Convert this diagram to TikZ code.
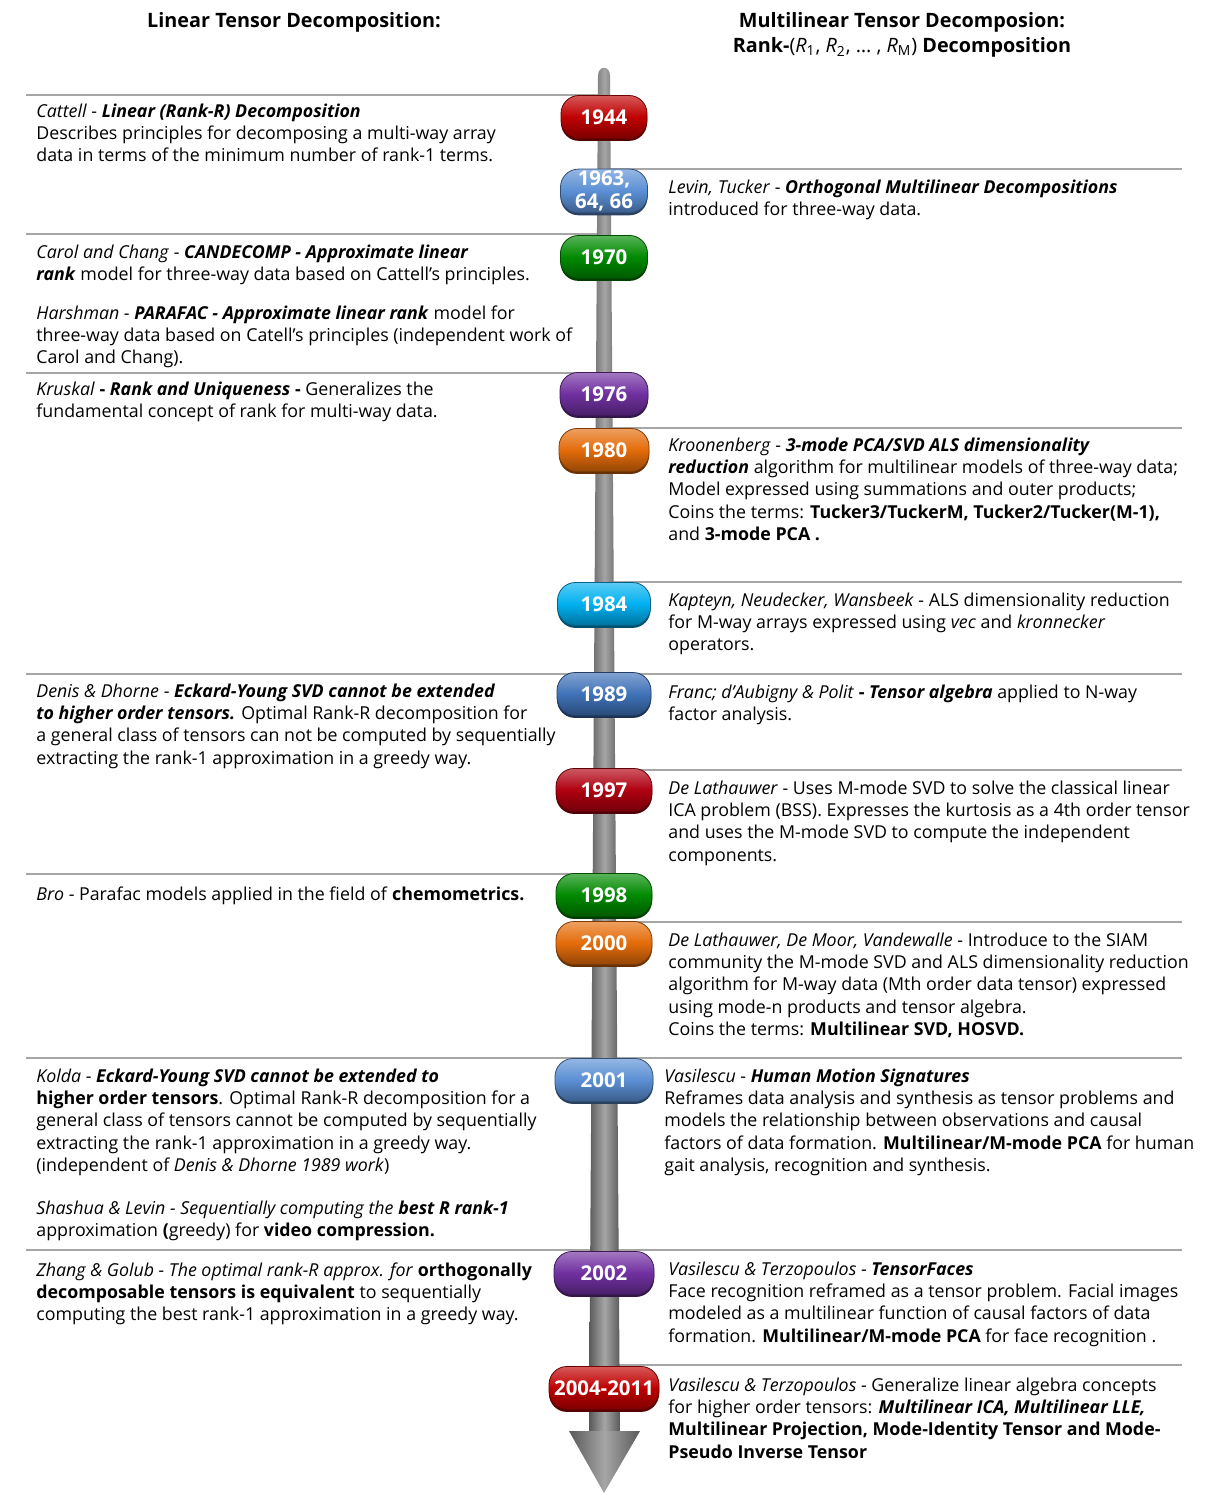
\documentclass[tikz,border=0pt]{standalone}
\usepackage{fontspec}
\setmainfont{Open Sans}
\usetikzlibrary{shadows}
\definecolor{pillred}{HTML}{C00000}
\definecolor{pillblue}{HTML}{5B8FD4}
\definecolor{pillgreen}{HTML}{008A00}
\definecolor{pillpurple}{HTML}{7030A0}
\definecolor{pillorange}{HTML}{E46C0A}
\definecolor{pillcyan}{HTML}{00B0F0}
\definecolor{pillsteel}{HTML}{3F72B8}
\definecolor{pilldred}{HTML}{B00010}
\begin{document}
\begin{tikzpicture}[x=0.5pt, y=-0.5pt,
  entry/.style={anchor=north west, yshift=6.4pt, align=left, inner sep=0pt,
    font=\fontsize{8.9}{11.15}\selectfont, execute at begin node=\strut},
  heading/.style={anchor=north, yshift=8.75pt, align=center, inner sep=0pt,
    font=\fontsize{9.9}{12.5}\selectfont\bfseries, execute at begin node=\strut},
  sep/.style={draw=black!35, line width=0.6pt},
  rod/.style={left color=black!65, right color=black!65, middle color=black!35},
  yearpill/.style 2 args={rounded corners=9pt, minimum width=#2, minimum height=21.5pt, inner sep=1pt,
    align=center, text=white, font=\fontsize{10.2}{11.2}\selectfont\bfseries,
    top color=#1!65!white, bottom color=#1!65!black, middle color=#1, draw=#1!55!black, line width=0.4pt,
    general shadow={fill=#1!45!black, shadow xshift=0pt, shadow yshift=-1.2pt}}]
\useasboundingbox (0,0) rectangle (1211,1497);

% headings
\node[heading] (hleft) at (294,27) {Linear Tensor Decomposition:};
\node[heading] (hright) at (902,30) {Multilinear Tensor Decomposion:\\
  Rank-{\mdseries(\textit{R}\textsubscript{1}, \textit{R}\textsubscript{2}, … , \textit{R}\textsubscript{M})} Decomposition};

% separators
\draw[sep] (26,95) -- (604,95);
\draw[sep] (604,169) -- (1182,169);
\draw[sep] (26,234) -- (604,234);
\draw[sep] (26,373) -- (604,373);
\draw[sep] (604,428) -- (1182,428);
\draw[sep] (604,582) -- (1182,582);
\draw[sep] (26,674) -- (1182,674);
\draw[sep] (604,770) -- (1182,770);
\draw[sep] (26,874) -- (604,874);
\draw[sep] (604,922) -- (1182,922);
\draw[sep] (26,1058) -- (1182,1058);
\draw[sep] (26,1250) -- (1182,1250);
\draw[sep] (604,1365) -- (1182,1365);

% timeline
\shade[rod] (589,1433) -- (598,76) .. controls (598,65) and (610,65) .. (610,76) -- (620,1433) -- cycle;
\shade[rod] (569,1431) -- (640,1431) -- (604,1493) -- cycle;

% years
\node[yearpill={pillred}{43pt}] (y1944) at (604,117) {1944};
\node[yearpill={pillblue}{43.5pt}] (y1963) at (604,191) {1963,\\64, 66};
\node[yearpill={pillgreen}{43.5pt}] (y1970) at (604,257) {1970};
\node[yearpill={pillpurple}{44pt}] (y1976) at (604,394) {1976};
\node[yearpill={pillorange}{45pt}] (y1980) at (604,450) {1980};
\node[yearpill={pillcyan}{46.5pt}] (y1984) at (604,604) {1984};
\node[yearpill={pillsteel}{47pt}] (y1989) at (604,694) {1989};
\node[yearpill={pilldred}{48pt}] (y1997) at (604,790) {1997};
\node[yearpill={pillgreen}{48pt}] (y1998) at (604,895) {1998};
\node[yearpill={pillorange}{48pt}] (y2000) at (604,943) {2000};
\node[yearpill={pillblue}{49pt}] (y2001) at (604,1080) {2001};
\node[yearpill={pillpurple}{50pt}] (y2002) at (604,1273) {2002};
\node[yearpill={pillred}{55pt}] (y2004) at (604,1388) {2004-2011};

% left column
\node[entry] (cattell) at (36,116) {\textit{Cattell} - \textbf{\textit{Linear (Rank-R) Decomposition}}\\
  Describes principles for decomposing a multi-way array\\
  data in terms of the minimum number of rank-1 terms.};
\node[entry] (carol) at (36,257) {\textit{Carol and Chang} - \textbf{\textit{CANDECOMP - Approximate linear}}\\
  \textbf{\textit{rank}} model for three-way data based on Cattell’s principles.};
\node[entry] (harshman) at (36,318) {\textit{Harshman} - \textbf{\textit{PARAFAC - Approximate linear rank}} model for\\
  three-way data based on Catell’s principles (independent work of\\
  Carol and Chang).};
\node[entry] (kruskal) at (36,394) {\textit{Kruskal} \textbf{- \textit{Rank and Uniqueness} -} Generalizes the\\
  fundamental concept of rank for multi-way data.};
\node[entry] (denis) at (36,696) {\textit{Denis \& Dhorne} - \textbf{\textit{Eckard-Young SVD cannot be extended}}\\
  \textbf{\textit{to higher order tensors.}} Optimal Rank-R decomposition for\\
  a general class of tensors can not be computed by sequentially\\
  extracting the rank-1 approximation in a greedy way.};
\node[entry] (bro) at (36,897) {\textit{Bro} - Parafac models applied in the field of \textbf{chemometrics.}};
\node[entry] (kolda) at (36,1081) {\textit{Kolda} - \textbf{\textit{Eckard-Young SVD cannot be extended to}}\\
  \textbf{higher order tensors}. Optimal Rank-R decomposition for a\\
  general class of tensors cannot be computed by sequentially\\
  extracting the rank-1 approximation in a greedy way.\\
  (independent of \textit{Denis \& Dhorne 1989 work})};
\node[entry] (shashua) at (36,1213) {\textit{Shashua \& Levin - Sequentially computing the} \textbf{\textit{best R rank-1}}\\
  approximation \textbf{(}greedy) for \textbf{video compression.}};
\node[entry] (zhang) at (36,1275) {\textit{Zhang \& Golub - The optimal rank-R approx. for} \textbf{orthogonally}\\
  \textbf{decomposable tensors is equivalent} to sequentially\\
  computing the best rank-1 approximation in a greedy way.};

% right column
\node[entry] (levin) at (668,192) {\textit{Levin, Tucker} - \textbf{\textit{Orthogonal Multilinear Decompositions}}\\
  introduced for three-way data.};
\node[entry] (kroonenberg) at (668,450) {\textit{Kroonenberg} - \textbf{\textit{3-mode PCA/SVD ALS dimensionality}}\\
  \textbf{\textit{reduction}} algorithm for multilinear models of three-way data;\\
  Model expressed using summations and outer products;\\
  Coins the terms: \textbf{Tucker3/TuckerM, Tucker2/Tucker(M-1),}\\
  and \textbf{3-mode PCA .}};
\node[entry] (kapteyn) at (668,605) {\textit{Kapteyn, Neudecker, Wansbeek} - ALS dimensionality reduction\\
  for M-way arrays expressed using \textit{vec} and \textit{kronnecker}\\
  operators.};
\node[entry] (franc) at (668,697) {\textit{Franc; d’Aubigny \& Polit} \textbf{- \textit{Tensor algebra}} applied to N-way\\
  factor analysis.};
\node[entry] (delath) at (668,793) {\textit{De Lathauwer} - Uses M-mode SVD to solve the classical linear\\
  ICA problem (BSS). Expresses the kurtosis as a 4th order tensor\\
  and uses the M-mode SVD to compute the independent\\
  components.};
\node[entry] (delathb) at (668,945) {\textit{De Lathauwer, De Moor, Vandewalle} - Introduce to the SIAM\\
  community the M-mode SVD and ALS dimensionality reduction\\
  algorithm for M-way data (Mth order data tensor) expressed\\
  using mode-n products and tensor algebra.\\
  Coins the terms: \textbf{Multilinear SVD, HOSVD.}};
\node[entry] (vasil) at (664,1081) {\textit{Vasilescu} - \textbf{\textit{Human Motion Signatures}}\\
  Reframes data analysis and synthesis as tensor problems and\\
  models the relationship between observations and causal\\
  factors of data formation. \textbf{Multilinear/M-mode PCA} for human\\
  gait analysis, recognition and synthesis.};
\node[entry] (vasilt) at (668,1274) {\textit{Vasilescu \& Terzopoulos} - \textbf{\textit{TensorFaces}}\\
  Face recognition reframed as a tensor problem. Facial images\\
  modeled as a multilinear function of causal factors of data\\
  formation. \textbf{Multilinear/M-mode PCA} for face recognition .};
\node[entry] (vasiltb) at (668,1390) {\textit{Vasilescu \& Terzopoulos} - Generalize linear algebra concepts\\
  for higher order tensors: \textbf{\textit{Multilinear ICA, Multilinear LLE,}}\\
  \textbf{Multilinear Projection, Mode-Identity Tensor and Mode-}\\
  \textbf{Pseudo Inverse Tensor}};
\end{tikzpicture}
\end{document}
